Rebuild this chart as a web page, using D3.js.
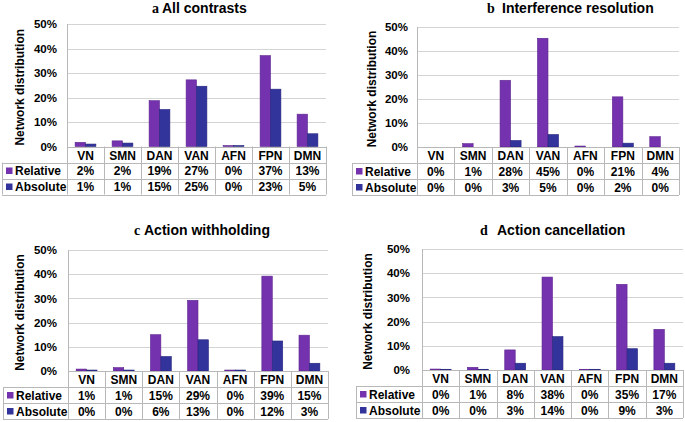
<!DOCTYPE html>
<html>
<head>
<meta charset="utf-8">
<script src="https://cdn.jsdelivr.net/npm/d3@7"></script>
<style>
  html, body { margin: 0; padding: 0; background: #fff; }
  svg { display: block; }
  text { font-family: "Liberation Sans", Arial, sans-serif; font-weight: bold; fill: #000; }
</style>
</head>
<body>
<svg id="chart" width="685" height="422"></svg>
<script>
// ---------- data ----------
const categories = ["VN", "SMN", "DAN", "VAN", "AFN", "FPN", "DMN"];
const seriesNames = ["Relative", "Absolute"];
const yTicks = [0, 10, 20, 30, 40, 50];
const panelLetters = ["a", "b", "c", "d"];
const panelTitles = ["All contrasts", "Interference resolution", "Action withholding", "Action cancellation"];
const yAxisTitle = "Network distribution";

// values in % (bar heights; table shows them rounded)
const relativeA = [1.7, 2.3, 18.7, 27.2, 0.4, 37.1, 13.2];
const absoluteA = [1.0, 1.4, 15.1, 24.6, 0.4, 23.4, 5.2];
const relativeB = [0.0, 1.4, 27.8, 45.3, 0.4, 20.9, 4.3];
const absoluteB = [0.0, 0.0, 2.7, 5.2, 0.0, 1.6, 0.0];
const relativeC = [0.8, 1.4, 15.0, 29.2, 0.4, 39.2, 14.8];
const absoluteC = [0.4, 0.4, 6.0, 12.9, 0.4, 12.4, 3.2];
const relativeD = [0.4, 1.1, 8.3, 38.4, 0.3, 35.4, 16.8];
const absoluteD = [0.3, 0.3, 2.8, 13.8, 0.3, 8.8, 2.8];

const panelSeries = [
  [relativeA, absoluteA],
  [relativeB, absoluteB],
  [relativeC, absoluteC],
  [relativeD, absoluteD]
];

// ---------- layout / style ----------
const colors = ["#7432AE", "#33339C"];
const strokeColors = ["#5E2590", "#25257E"];
const gridColor = "#D4D4D4";
const borderColor = "#B8B8B8";

const layouts = [
  { left: 67,  right: 326, top: 24,  bottom: 146.5, tableLeft: 2,   yTitleX: 20,  tickRight: 57,  letterX: 152, titleX: 162, titleY: 13,  rowH: 16 },
  { left: 417, right: 679, top: 27,  bottom: 147,   tableLeft: 352, yTitleX: 372, tickRight: 408, letterX: 487, titleX: 502, titleY: 13,  rowH: 16 },
  { left: 68,  right: 328, top: 250, bottom: 371,   tableLeft: 3,   yTitleX: 20,  tickRight: 57,  letterX: 134, titleX: 144, titleY: 235, rowH: 16 },
  { left: 422, right: 683, top: 249, bottom: 370,   tableLeft: 356, yTitleX: 368, tickRight: 410, letterX: 480, titleX: 497, titleY: 235, rowH: 16 }
];

const svg = d3.select("#chart");

panelSeries.forEach((series, pi) => {
  const L = layouts[pi];
  const g = svg.append("g");

  const x0 = d3.scaleBand().domain(categories).range([L.left, L.right]).paddingInner(0).paddingOuter(0);
  const x1 = d3.scaleBand().domain(seriesNames).range([0, x0.bandwidth()]).paddingInner(0).paddingOuter(0.78);
  const y = d3.scaleLinear().domain([0, 50]).range([L.bottom, L.top]);

  // gridlines
  g.append("g").selectAll("line").data(yTicks).join("line")
    .attr("x1", L.left).attr("x2", L.right)
    .attr("y1", d => Math.round(y(d)) + 0.5).attr("y2", d => Math.round(y(d)) + 0.5)
    .attr("stroke", gridColor).attr("stroke-width", 1);

  // y axis labels
  const yAxis = d3.axisLeft(y).tickValues(yTicks).tickFormat(d => d + "%").tickSize(0).tickPadding(0);
  const ax = g.append("g").attr("transform", `translate(${L.tickRight},0)`).call(yAxis);
  ax.select(".domain").remove();
  ax.selectAll("text").style("font-size", "11.5px").style("font-family", "'Liberation Sans', Arial, sans-serif").style("font-weight", "bold").attr("fill", "#000");

  // y-axis title
  g.append("text")
    .attr("transform", `translate(${L.yTitleX},${(L.top + L.bottom) / 2 + 2}) rotate(-90)`)
    .attr("text-anchor", "middle").attr("dy", "0.36em")
    .style("font-size", "12px")
    .text(yAxisTitle);

  // panel title
  g.append("text").attr("x", L.letterX).attr("y", L.titleY)
    .style("font-family", "'Liberation Serif', 'Times New Roman', serif")
    .style("font-size", "14px").text(panelLetters[pi]);
  g.append("text").attr("x", L.titleX).attr("y", L.titleY)
    .style("font-size", "14px").text(panelTitles[pi]);

  // bars
  series.forEach((vals, si) => {
    g.append("g").selectAll("rect").data(vals).join("rect")
      .attr("x", (d, i) => x0(categories[i]) + x1(seriesNames[si]))
      .attr("width", x1.bandwidth())
      .attr("y", d => y(d))
      .attr("height", d => Math.max(0, y(0) - y(d)))
      .attr("fill", colors[si])
      .attr("stroke", d => d > 0 ? strokeColors[si] : "none")
      .attr("stroke-width", 0.6);
  });

  // left axis line
  const tableBottom = L.bottom + 3 * L.rowH;
  g.append("line")
    .attr("x1", L.left + 0.5).attr("x2", L.left + 0.5)
    .attr("y1", L.top).attr("y2", tableBottom)
    .attr("stroke", borderColor);

  // ---------- data table ----------
  const tg = g.append("g");
  const hLines = [
    { x1: L.left, y: L.bottom },
    { x1: L.tableLeft, y: L.bottom + L.rowH },
    { x1: L.tableLeft, y: L.bottom + 2 * L.rowH },
    { x1: L.tableLeft, y: tableBottom }
  ];
  tg.selectAll("line.h").data(hLines).join("line").attr("class", "h")
    .attr("x1", d => d.x1).attr("x2", L.right)
    .attr("y1", d => Math.round(d.y) + 0.5).attr("y2", d => Math.round(d.y) + 0.5)
    .attr("stroke", borderColor);
  tg.append("line")
    .attr("x1", L.tableLeft + 0.5).attr("x2", L.tableLeft + 0.5)
    .attr("y1", L.bottom + L.rowH).attr("y2", tableBottom)
    .attr("stroke", borderColor);
  const dividers = categories.map(c => x0(c) + x0.bandwidth());
  tg.selectAll("line.v").data(dividers).join("line").attr("class", "v")
    .attr("x1", d => Math.round(d) + 0.5).attr("x2", d => Math.round(d) + 0.5)
    .attr("y1", L.bottom).attr("y2", tableBottom)
    .attr("stroke", borderColor);

  tg.selectAll("text.cat").data(categories).join("text").attr("class", "cat")
    .attr("x", d => x0(d) + x0.bandwidth() / 2)
    .attr("y", L.bottom + L.rowH / 2 + 1)
    .attr("dy", "0.36em").attr("text-anchor", "middle")
    .style("font-size", "12px")
    .text(d => d);

  series.forEach((vals, si) => {
    const rowMid = L.bottom + L.rowH * (si + 1) + L.rowH / 2 + 0.5;
    tg.append("rect")
      .attr("x", L.tableLeft + 4).attr("y", rowMid - 3.5)
      .attr("width", 6.5).attr("height", 6.5)
      .attr("fill", colors[si]);
    tg.append("text")
      .attr("x", L.tableLeft + 13).attr("y", rowMid)
      .attr("dy", "0.36em")
      .style("font-size", "12px")
      .text(seriesNames[si]);
    tg.append("g").selectAll("text").data(vals).join("text")
      .attr("x", (d, i) => x0(categories[i]) + x0.bandwidth() / 2)
      .attr("y", rowMid)
      .attr("dy", "0.36em").attr("text-anchor", "middle")
      .style("font-size", "12px")
      .text(d => Math.round(d) + "%");
  });
});
</script>
</body>
</html>
